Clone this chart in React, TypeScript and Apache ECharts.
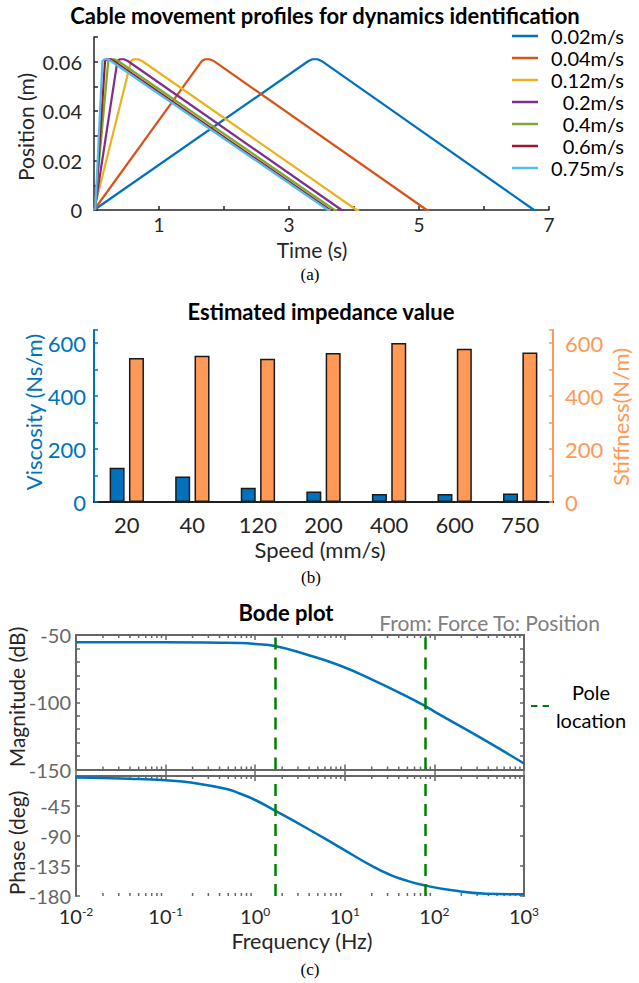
import React, { useEffect, useRef } from 'react';
import * as echarts from 'echarts';

const FONT = 'Lato, "Noto Sans", sans-serif';
const SERIF = '"Liberation Serif", "DejaVu Serif", serif';
const DARK = '#262626';
const GRAY = '#666666';

// ---------- Panel (a): cable movement profiles ----------
const SPEED_NAMES = ['0.02m/s', '0.04m/s', '0.12m/s', '0.2m/s', '0.4m/s', '0.6m/s', '0.75m/s'];
const SPEED_COLORS = ['#0072BD', '#D95319', '#EDB120', '#7E2F8E', '#77AC30', '#A2142F', '#4DBEEE'];
const PROFILE_002 = [[0, 0], [3.3, 0.0603], [3.36, 0.061], [3.44, 0.061], [3.5, 0.0603], [6.77, 0], [6.82, 0]];
const PROFILE_004 = [[0, 0], [1.66, 0.0603], [1.71, 0.061], [1.78, 0.061], [1.84, 0.0603], [5.12, 0], [5.16, 0]];
const PROFILE_012 = [[0, 0], [0.57, 0.0603], [0.61, 0.061], [0.68, 0.061], [0.74, 0.0603], [4.04, 0], [4.08, 0]];
const PROFILE_02 = [[0.01, 0], [0.36, 0.0603], [0.4, 0.061], [0.46, 0.061], [0.52, 0.0603], [3.81, 0], [3.86, 0]];
const PROFILE_04 = [[0.01, 0], [0.22, 0.0603], [0.26, 0.061], [0.31, 0.061], [0.37, 0.0603], [3.7, 0], [3.74, 0]];
const PROFILE_06 = [[0.02, 0], [0.17, 0.0603], [0.2, 0.061], [0.25, 0.061], [0.3, 0.0603], [3.63, 0], [3.67, 0]];
const PROFILE_075 = [[0.02, 0], [0.13, 0.0603], [0.16, 0.061], [0.21, 0.061], [0.26, 0.0603], [3.6, 0], [3.64, 0]];
const PROFILES = [PROFILE_002, PROFILE_004, PROFILE_012, PROFILE_02, PROFILE_04, PROFILE_06, PROFILE_075];

// ---------- Panel (b): estimated impedance ----------
const SPEED_CATS = ['20', '40', '120', '200', '400', '600', '750'];
const VISCOSITY = [129, 96, 54, 40, 30, 30, 32];
const STIFFNESS = [544, 553, 541, 563, 601, 579, 565];

// ---------- Panel (c): Bode plot ----------
const MAG_FREQ = [0.01, 0.1, 0.41, 0.67, 1.0, 1.66, 3.73, 8.8, 20.7, 48.5, 79, 112, 330, 1000];
const MAG_DB = [-55.4, -55.4, -55.7, -56.0, -56.7, -58.2, -64.5, -72.7, -83.5, -95.4, -102.9, -108.8, -126.5, -145.5];
const PHASE_FREQ = [0.01, 0.04, 0.1, 0.2, 0.48, 0.67, 1.0, 1.66, 3.73, 8.8, 20.7, 31.5, 48.5, 79, 158, 379, 1000];
const PHASE_DEG = [-2.3, -4.2, -6.5, -10.2, -19.5, -26.3, -36, -51.8, -78, -107, -136, -147.8, -156.8, -164.3, -171.5, -176.5, -177.5];
const POLE_FREQS = [1.66, 79];
const DECADES = [-2, -1, 0, 1, 2];
const MINOR_MULTS = [2, 3, 4, 5, 6, 7, 8, 9];

const zip = (xs: number[], ys: number[]) => xs.map((x, i) => [x, ys[i]]);

function buildOption() {
  const minorFreqs: number[][] = [];
  DECADES.forEach((d) => MINOR_MULTS.forEach((m) => minorFreqs.push([m * Math.pow(10, d), 0])));

  const logLabel = (v: number) => {
    const e = Math.round(Math.log10(v));
    return '{b|10}{s|' + e + '}';
  };

  const logAxisBase = (gridIndex: number, position: 'top' | 'bottom', labels: boolean) => ({
    type: 'log',
    logBase: 10,
    gridIndex,
    position,
    min: 0.01,
    max: 1000,
    axisLine: { show: true, lineStyle: { color: GRAY, width: 2 } },
    axisTick: { show: true, inside: true, length: 5, lineStyle: { color: GRAY, width: 1.5 } },
    splitLine: { show: false },
    minorTick: { show: false },
    axisLabel: labels
      ? {
          show: true,
          margin: 9,
          formatter: logLabel,
          rich: {
            b: { fontFamily: FONT, fontSize: 20, color: DARK, lineHeight: 22 },
            s: { fontFamily: FONT, fontSize: 12, color: DARK, verticalAlign: 'top', lineHeight: 12 },
          },
        }
      : { show: false },
  });

  const minorTickSeries = (xAxisIndex: number, yAxisIndex: number, yMin: number, yMax: number) => ({
    type: 'custom',
    xAxisIndex,
    yAxisIndex,
    silent: true,
    clip: false,
    data: minorFreqs,
    renderItem: (params: any, api: any) => {
      const f = api.value(0);
      const pb = api.coord([f, yMin]);
      const pt = api.coord([f, yMax]);
      const st = { stroke: GRAY, lineWidth: 1.5 };
      return {
        type: 'group',
        children: [
          { type: 'line', shape: { x1: pb[0], y1: pb[1], x2: pb[0], y2: pb[1] - 3 }, style: st },
          { type: 'line', shape: { x1: pt[0], y1: pt[1], x2: pt[0], y2: pt[1] + 3 }, style: st },
        ],
      };
    },
  });

  const text = (t: string, x: number, y: number, opts: any = {}) => ({
    type: 'text',
    x,
    y,
    rotation: opts.rotation || 0,
    silent: true,
    style: {
      text: t,
      font: opts.font || `20px ${FONT}`,
      fill: opts.fill || DARK,
      textAlign: opts.align || 'center',
      textVerticalAlign: 'middle',
    },
  });

  const profileSeries = PROFILES.map((p, i) => ({
    name: SPEED_NAMES[i],
    type: 'line',
    xAxisIndex: 0,
    yAxisIndex: 0,
    data: p,
    symbol: 'none',
    clip: false,
    lineStyle: { color: SPEED_COLORS[i], width: 2.2 },
    itemStyle: { color: SPEED_COLORS[i] },
  }));

  const poleSeries = (xAxisIndex: number, yAxisIndex: number) => ({
    name: 'Pole location',
    type: 'line',
    xAxisIndex,
    yAxisIndex,
    data: [],
    symbol: 'none',
    lineStyle: { color: '#008000', width: 2.5, type: [12, 8] },
    itemStyle: { color: '#008000' },
    markLine: {
      silent: true,
      symbol: 'none',
      label: { show: false },
      lineStyle: { color: '#008000', width: 2.5, type: [12, 8] },
      data: POLE_FREQS.map((f) => ({ xAxis: f })),
    },
  });

  return {
    animation: false,
    backgroundColor: '#ffffff',
    textStyle: { fontFamily: FONT },
    grid: [
      { left: 94, top: 37, width: 455, height: 173 },
      { left: 94, top: 330, width: 459, height: 172 },
      { left: 76, top: 635, width: 448, height: 134.5 },
      { left: 76, top: 776, width: 448, height: 120 },
    ],
    legend: [
      {
        data: SPEED_NAMES,
        orient: 'vertical',
        left: 512,
        top: 26,
        padding: 0,
        itemGap: 2,
        itemWidth: 26,
        itemHeight: 2.5,
        icon: 'rect',
        selectedMode: false,
        formatter: (n: string) => '{a|' + n + '}',
        textStyle: {
          fontFamily: FONT,
          fontSize: 20,
          lineHeight: 20,
          color: '#000',
          rich: { a: { width: 81, align: 'right', fontFamily: FONT, fontSize: 20, lineHeight: 20, color: '#000' } },
        },
      },
      {
        data: ['Pole location'],
        orient: 'vertical',
        left: 531,
        top: 682,
        padding: 0,
        itemWidth: 18,
        itemHeight: 2.5,
        icon: 'path://M0,0H6V2H0Z M11,0H17V2H11Z',
        selectedMode: false,
        formatter: () => '{a|Pole}\n{a|location}',
        textStyle: {
          fontFamily: FONT,
          fontSize: 20,
          color: '#000',
          rich: { a: { width: 74, align: 'center', fontFamily: FONT, fontSize: 20, lineHeight: 28, color: '#000' } },
        },
      },
    ],
    xAxis: [
      {
        type: 'value',
        gridIndex: 0,
        min: 0,
        max: 7,
        interval: 1,
        axisLine: { show: true, onZero: false, lineStyle: { color: DARK, width: 1.5 } },
        axisTick: { show: true, inside: true, length: 4, lineStyle: { color: DARK, width: 1.5 } },
        splitLine: { show: false },
        axisLabel: {
          margin: 5,
          fontFamily: FONT,
          fontSize: 19,
          color: DARK,
          formatter: (v: number) => (Math.round(v) % 2 === 1 ? String(v) : ''),
        },
      },
      {
        type: 'category',
        gridIndex: 1,
        data: SPEED_CATS,
        position: 'bottom',
        axisLine: { show: true, lineStyle: { color: '#111', width: 2 } },
        axisTick: { show: false },
        axisLabel: { margin: 11, fontFamily: FONT, fontSize: 22, color: DARK },
      },
      {
        type: 'category',
        gridIndex: 1,
        data: SPEED_CATS,
        position: 'top',
        axisLine: { show: true, lineStyle: { color: DARK, width: 1.5 } },
        axisTick: { show: false },
        axisLabel: { show: false },
      },
      logAxisBase(2, 'bottom', false),
      logAxisBase(2, 'top', false),
      logAxisBase(3, 'bottom', true),
      logAxisBase(3, 'top', false),
    ],
    yAxis: [
      {
        type: 'value',
        gridIndex: 0,
        min: 0,
        max: 0.07,
        interval: 0.01,
        axisLine: { show: true, lineStyle: { color: DARK, width: 1.5 } },
        axisTick: { show: true, inside: true, length: 4, lineStyle: { color: DARK, width: 1.5 } },
        splitLine: { show: false },
        axisLabel: {
          margin: 12,
          fontFamily: FONT,
          fontSize: 20,
          color: DARK,
          formatter: (v: number) => {
            const k = Math.round(v * 100);
            if (k % 2 !== 0) return '';
            return k === 0 ? '0' : (k / 100).toFixed(2);
          },
        },
      },
      {
        type: 'value',
        gridIndex: 1,
        position: 'left',
        min: 0,
        max: 650,
        interval: 100,
        axisLine: { show: true, lineStyle: { color: '#0072BD', width: 2 } },
        axisTick: { show: true, inside: true, length: 4, lineStyle: { color: '#0072BD', width: 1.5 } },
        splitLine: { show: false },
        axisLabel: {
          margin: 8,
          fontFamily: FONT,
          fontSize: 22,
          color: '#0072BD',
          formatter: (v: number) => (v % 200 === 0 ? String(v) : ''),
        },
      },
      {
        type: 'value',
        gridIndex: 1,
        position: 'right',
        min: 0,
        max: 650,
        interval: 100,
        axisLine: { show: true, lineStyle: { color: '#FF9955', width: 2 } },
        axisTick: { show: true, inside: true, length: 4, lineStyle: { color: '#FF9955', width: 1.5 } },
        splitLine: { show: false },
        axisLabel: {
          margin: 12,
          fontFamily: FONT,
          fontSize: 22,
          color: '#FF9955',
          formatter: (v: number) => (v % 200 === 0 ? String(v) : ''),
        },
      },
      {
        type: 'value',
        gridIndex: 2,
        position: 'left',
        min: -150,
        max: -50,
        interval: 10,
        axisLine: { show: true, lineStyle: { color: GRAY, width: 2 } },
        axisTick: { show: true, inside: true, length: 4, lineStyle: { color: GRAY, width: 1.5 } },
        splitLine: { show: false },
        axisLabel: {
          margin: 5,
          fontFamily: FONT,
          fontSize: 20,
          color: GRAY,
          formatter: (v: number) => (v % 50 === 0 ? String(v) : ''),
        },
      },
      {
        type: 'value',
        gridIndex: 2,
        position: 'right',
        min: -150,
        max: -50,
        interval: 10,
        axisLine: { show: true, lineStyle: { color: GRAY, width: 2 } },
        axisTick: { show: true, inside: true, length: 4, lineStyle: { color: GRAY, width: 1.5 } },
        splitLine: { show: false },
        axisLabel: { show: false },
      },
      {
        type: 'value',
        gridIndex: 3,
        position: 'left',
        min: -180,
        max: 0,
        interval: 45,
        axisLine: { show: true, lineStyle: { color: GRAY, width: 2 } },
        axisTick: { show: true, inside: true, length: 4, lineStyle: { color: GRAY, width: 1.5 } },
        splitLine: { show: false },
        axisLabel: {
          margin: 5,
          fontFamily: FONT,
          fontSize: 20,
          color: GRAY,
          formatter: (v: number) => (v === 0 ? '' : String(v)),
        },
      },
      {
        type: 'value',
        gridIndex: 3,
        position: 'right',
        min: -180,
        max: 0,
        interval: 45,
        axisLine: { show: true, lineStyle: { color: GRAY, width: 2 } },
        axisTick: { show: true, inside: true, length: 4, lineStyle: { color: GRAY, width: 1.5 } },
        splitLine: { show: false },
        axisLabel: { show: false },
      },
    ],
    series: [
      ...profileSeries,
      {
        name: 'Viscosity',
        type: 'bar',
        xAxisIndex: 1,
        yAxisIndex: 1,
        data: VISCOSITY,
        barWidth: 15,
        barGap: '29%',
        itemStyle: { color: '#0072BD', borderColor: '#1a1a1a', borderWidth: 1.5 },
      },
      {
        name: 'Stiffness',
        type: 'bar',
        xAxisIndex: 1,
        yAxisIndex: 2,
        data: STIFFNESS,
        barWidth: 15,
        barGap: '29%',
        itemStyle: { color: '#FF9955', borderColor: '#1a1a1a', borderWidth: 1.5 },
      },
      {
        name: 'Magnitude',
        type: 'line',
        xAxisIndex: 3,
        yAxisIndex: 3,
        data: zip(MAG_FREQ, MAG_DB),
        symbol: 'none',
        smooth: 0.5,
        clip: false,
        lineStyle: { color: '#0072BD', width: 2.5 },
      },
      {
        name: 'Phase',
        type: 'line',
        xAxisIndex: 5,
        yAxisIndex: 5,
        data: zip(PHASE_FREQ, PHASE_DEG),
        symbol: 'none',
        smooth: 0.5,
        clip: false,
        lineStyle: { color: '#0072BD', width: 2.5 },
      },
      poleSeries(3, 3),
      poleSeries(5, 5),
      minorTickSeries(3, 3, -150, -50),
      minorTickSeries(5, 5, -180, 0),
    ],
    graphic: [
      text('Cable movement profiles for dynamics identification', 325, 15, { font: `bold 22px ${FONT}`, fill: '#000' }),
      text('Position (m)', 25, 127, { rotation: Math.PI / 2, font: `21px ${FONT}` }),
      text('Time (s)', 312, 249, { font: `21px ${FONT}` }),
      text('(a)', 310, 274, { font: `17px ${SERIF}`, fill: '#000' }),
      text('Estimated impedance value', 321, 311, { font: `bold 22px ${FONT}`, fill: '#000' }),
      text('Viscosity (Ns/m)', 33, 412, { rotation: Math.PI / 2, font: `22px ${FONT}`, fill: '#0072BD' }),
      text('Stiffness(N/m)', 620, 417, { rotation: Math.PI / 2, font: `22px ${FONT}`, fill: '#FF9955' }),
      text('Speed (mm/s)', 320, 549, { font: `22px ${FONT}` }),
      text('(b)', 311, 577, { font: `17px ${SERIF}`, fill: '#000' }),
      text('Bode plot', 286, 612, { font: `bold 22px ${FONT}`, fill: '#000' }),
      text('From: Force To: Position', 600, 622, { font: `21px ${FONT}`, fill: '#808080', align: 'right' }),
      text('Magnitude (dB)', 16, 697, { rotation: Math.PI / 2, font: `21px ${FONT}` }),
      text('Phase (deg)', 16, 843, { rotation: Math.PI / 2, font: `21px ${FONT}` }),
      text('Frequency (Hz)', 302, 941, { font: `21.5px ${FONT}` }),
      text('(c)', 310, 969, { font: `17px ${SERIF}`, fill: '#000' }),
    ],
  };
}

export default function App() {
  const ref = useRef<HTMLDivElement>(null);
  useEffect(() => {
    if (!ref.current) return;
    const chart = echarts.init(ref.current, null, { renderer: 'svg' });
    chart.setOption(buildOption() as any);
    return () => chart.dispose();
  }, []);
  return (
    <div
      ref={ref}
      style={{ position: 'absolute', left: 0, top: 0, width: 639, height: 983, background: '#ffffff' }}
    />
  );
}
